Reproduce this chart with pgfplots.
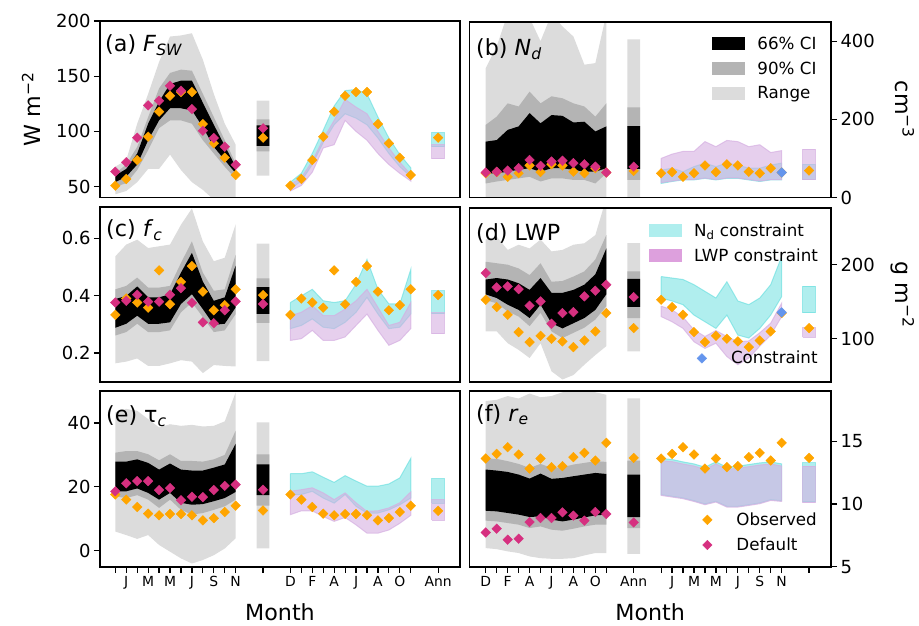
\documentclass[border=0pt]{standalone}
\usepackage{fontspec}
\setmainfont{DejaVu Sans}
\usepackage{pgfplots}
\pgfplotsset{compat=1.18}
\usepackage{pgfplotstable}

\definecolor{rangec}{HTML}{DCDCDC}
\definecolor{ci90}{HTML}{B4B4B4}
\definecolor{obsc}{HTML}{FFA500}
\definecolor{defc}{HTML}{D63080}
\definecolor{conc}{HTML}{6495ED}
\definecolor{ndc}{RGB}{97,221,221}
\definecolor{lwpc}{RGB}{213,175,225}
\definecolor{ndleg}{HTML}{AFEEEE}
\definecolor{lwpleg}{HTML}{DDA0DD}

\newcommand{\ytfont}{\fontsize{18}{21}\selectfont}
\newcommand{\xtfont}{\fontsize{13.9}{16}\selectfont}
\newcommand{\lgfont}{\fontsize{16.7}{19}\selectfont}
\newcommand{\bigfont}{\fontsize{22.2}{26}\selectfont}

% annual bars
\newcommand{\abarA}[3]{\addplot[#3] coordinates {(12.92,#1) (14.08,#1) (14.08,#2) (12.92,#2) (12.92,#1)};}
\newcommand{\abarB}[3]{\addplot[#3] coordinates {(28.92,#1) (30.08,#1) (30.08,#2) (28.92,#2) (28.92,#1)};}

\tikzset{plab/.style={anchor=base west, font=\bigfont, inner sep=0pt}}
\pgfplotsset{
  panel/.style={scale only axis, anchor=south west, axis on top,
    axis line style={line width=1.6pt}, tick align=outside, major tick length=6pt,
    every tick/.style={black, line width=1.2pt}, xtick=\empty,
    yticklabel style={font=\ytfont}, xticklabel style={font=\xtfont},
    /pgf/number format/assume math mode=true, xmax=31.5},
  leftpanel/.style={panel, width=360pt, ytick pos=left, xmin=-1.4},
  rightpanel/.style={panel, width=361.7pt, ytick pos=right, yticklabel pos=right, xmin=-1.5},
  rng/.style={fill=rangec, draw=none, forget plot},
  c90/.style={fill=ci90, draw=none, forget plot},
  c66/.style={fill=black, draw=none, forget plot},
  ndf/.style={fill=ndc, fill opacity=0.5, draw=ndc, draw opacity=0.6, line width=1pt, forget plot},
  lwpf/.style={fill=lwpc, fill opacity=0.6, draw=lwpc, draw opacity=0.7, line width=1pt, forget plot},
  dmd/.style={only marks, mark=square*, mark size=3.4pt, mark options={rotate=45}},
  obsm/.style={dmd, color=obsc, forget plot},
  defm/.style={dmd, color=defc, forget plot},
  conm/.style={dmd, color=conc, forget plot},
  leftticks/.style={xtick pos=left, xtick={0,1,2,3,4,5,6,7,8,9,10,11,13.5,16,17,18,19,20,21,22,23,24,25,26,27,29.5}},
  leg/.style={legend cell align=left, legend style={draw=none, fill=none, font=\lgfont,
    row sep=11pt, column sep=12.6pt, inner sep=0pt, nodes={inner sep=0pt}}},
  patchleg/.style={legend image code/.code={\fill[##1] (0pt,-6.5pt) rectangle (33pt,6.5pt);}},
  markleg/.style={legend image code/.code={\path[draw=none, fill=none] (0pt,-6.5pt) rectangle (33pt,6.5pt); \draw[##1] plot coordinates {(16.5pt,0pt)};}},
}

% observed / default points
\pgfplotstableread{
x obs def
0 50.8 63.5
1 56.9 72.0
2 74.0 94.3
3 95.2 123.6
4 117.9 127.8
5 132.3 141.4
6 135.7 136.9
7 135.7 120.3
8 106.7 100.6
9 89.2 94.0
10 76.2 86.1
11 60.5 69.8
}\tA
\pgfplotstableread{
x obs def
0 62 64
1 65 66
2 53 69
3 62 75
4 82 96
5 65 81
6 85 92
7 82 94
8 66 88
9 62 85
10 75 79
11 64 64
}\tB
\pgfplotstableread{
x obs def
0 0.333 0.376
1 0.390 0.382
2 0.376 0.403
3 0.358 0.379
4 0.488 0.379
5 0.370 0.403
6 0.448 0.426
7 0.503 0.375
8 0.414 0.307
9 0.349 0.304
10 0.367 0.349
11 0.422 0.380
}\tC
\pgfplotstableread{
x obs def
0 152.7 188.7
1 142.8 169.4
2 132.4 170.7
3 109.0 167.1
4 95.5 144.6
5 104.0 150.5
6 100.0 120.3
7 96.4 134.7
8 88.7 136.0
9 97.7 157.2
10 109.9 164.9
11 134.7 173.0
}\tD
\pgfplotstableread{
x obs def
0 17.6 18.6
1 16.0 21.1
2 13.7 21.8
3 11.6 21.8
4 11.1 19.0
5 11.5 19.6
6 11.5 15.8
7 11.1 16.9
8 9.5 16.8
9 10.2 19.0
10 12.1 20.3
11 14.1 20.7
}\tE
\pgfplotstableread{
x obs def
0 13.62 7.73
1 13.99 8.03
2 14.52 7.15
3 13.94 7.23
4 12.82 8.56
5 13.62 8.88
6 12.93 8.88
7 13.01 9.33
8 13.73 9.07
9 14.07 8.67
10 13.46 9.36
11 14.87 9.20
}\tF

\begin{document}
\begin{tikzpicture}
\useasboundingbox (0,0) rectangle (919pt,625pt);

% (a)
\begin{axis}[leftpanel, at={(100pt,427.4pt)}, height=176.5pt, ymin=40, ymax=200, ytick={50,100,150,200},
  ylabel={W m\textsuperscript{−2}}, ylabel style={at={(axis description cs:-0.164,0.5)}, anchor=base, font=\bigfont}]
  \addplot[rng] coordinates {(0,68)(1,74)(2,107)(3,134)(4,163)(5,186)(6,187)(7,189)(8,165)(9,134)(10,107)(11,88)
    (11,38)(10,38)(9,38)(8,47)(7,54)(6,65)(5,79)(4,66)(3,66)(2,54)(1,46)(0,43)};
  \addplot[c90] coordinates {(0,62)(1,70)(2,86)(3,113)(4,139)(5,153)(6,156)(7,155)(8,134)(9,113)(10,92)(11,71)
    (11,57)(10,68)(9,80)(8,92)(7,107)(6,110)(5,110)(4,103)(3,83)(2,65)(1,53)(0,50)};
  \addplot[c66] coordinates {(0,60)(1,66)(2,80)(3,107)(4,127)(5,143)(6,146)(7,146)(8,126)(9,106)(10,87)(11,68)
    (11,62)(10,74)(9,86)(8,104)(7,119)(6,121)(5,121)(4,110)(3,92)(2,70)(1,59)(0,54)};
  \abarA{60}{128}{rng}
  \abarA{82}{111}{c90}
  \abarA{87}{105.5}{c66}
  \addplot[obsm] table[x=x,y=obs]{\tA};
  \addplot[defm] table[x=x,y=def]{\tA};
  \addplot[obsm] coordinates {(13.5,94.3)};
  \addplot[defm] coordinates {(13.5,102.8)};
  \addplot[ndf] coordinates {(16,54)(17,62)(18,80)(19,101)(20,123)(21,137)(22,138)(23,134)(24,113)(25,94)(26,79)(27,67)
    (27,59)(26,68)(25,80)(24,94)(23,106)(22,112)(21,116)(20,106)(19,90)(18,70)(17,55)(16,48)(16,54)};
  \addplot[lwpf] coordinates {(16,52)(17,58)(18,73)(19,93)(20,110)(21,129)(22,122)(23,116)(24,100)(25,85)(26,72)(27,61)
    (27,55)(26,62)(25,70)(24,80)(23,92)(22,100)(21,110)(20,88)(19,85)(18,63)(17,51)(16,46)(16,52)};
  \abarB{86}{99}{ndf}
  \abarB{75}{88}{lwpf}
  \addplot[obsm] table[x expr=\thisrow{x}+16,y=obs]{\tA};
  \addplot[obsm] coordinates {(29.5,94.3)};
  \node[plab] at (rel axis cs:0.014,0.828) {(a) \textit{F}\textsubscript{\textit{SW}}};
\end{axis}

% (b)
\begin{axis}[rightpanel, leg, patchleg, at={(469.3pt,427.5pt)}, height=175.8pt, ymin=0, ymax=450, ytick={0,200,400},
  ylabel={cm\textsuperscript{−3}}, ylabel style={at={(axis description cs:1.177,0.5)}, anchor=base, rotate=180, font=\bigfont},
  legend style={at={(0.670,0.915)}, anchor=north west}]
  \addplot[rng] coordinates {(0,331)(1,387)(2,470)(3,470)(4,460)(5,400)(6,470)(7,438)(8,412)(9,340)(10,344)(11,470)
    (11,-5)(0,-5)};
  \addplot[c90] coordinates {(0,186)(1,207)(2,241)(3,233)(4,271)(5,241)(6,259)(7,254)(8,241)(9,233)(10,207)(11,241)
    (11,62)(10,36)(9,45)(8,45)(7,49)(6,49)(5,41)(4,53)(3,49)(2,45)(1,41)(0,36)};
  \addplot[c66] coordinates {(0,143)(1,147)(2,173)(3,182)(4,216)(5,190)(6,211)(7,209)(8,192)(9,194)(10,169)(11,182)
    (11,75)(10,66)(9,66)(8,71)(7,75)(6,75)(5,66)(4,75)(3,71)(2,66)(1,62)(0,62)};
  \abarA{-5}{405}{rng}
  \abarA{45}{231}{c90}
  \abarA{73}{183}{c66}
  \addplot[obsm] table[x=x,y=obs]{\tB};
  \addplot[defm] table[x=x,y=def]{\tB};
  \addplot[obsm] coordinates {(13.5,68)};
  \addplot[defm] coordinates {(13.5,79)};
  \addplot[ndf] coordinates {(16,70)(17,75)(18,66)(19,79)(20,88)(21,79)(22,88)(23,83)(24,75)(25,75)(26,83)(27,88)
    (27,45)(26,45)(25,41)(24,45)(23,49)(22,49)(21,45)(20,49)(19,45)(18,45)(17,41)(16,36)(16,70)};
  \addplot[lwpf] coordinates {(16,100)(17,111)(18,118)(19,118)(20,143)(21,130)(22,146)(23,143)(24,130)(25,135)(26,115)(27,120)
    (27,46)(26,46)(25,42)(24,46)(23,50)(22,50)(21,46)(20,50)(19,46)(18,46)(17,42)(16,38)(16,100)};
  \abarB{45}{85}{ndf}
  \abarB{45}{124}{lwpf}
  \addplot[obsm] table[x expr=\thisrow{x}+16,y=obs]{\tB};
  \addplot[obsm] coordinates {(29.5,69)};
  \addplot[conm] coordinates {(27,64)};
  \addlegendimage{fill=black, draw=none}\addlegendentry{66\% CI}
  \addlegendimage{fill=ci90, draw=none}\addlegendentry{90\% CI}
  \addlegendimage{fill=rangec, draw=none}\addlegendentry{Range}
  \node[plab] at (rel axis cs:0.0185,0.81) {(b) \textit{N}\textsubscript{\textit{d}}};
\end{axis}

% (c)
\begin{axis}[leftpanel, at={(100pt,243.3pt)}, height=175pt, ymin=0.1, ymax=0.71, ytick={0.2,0.4,0.6}]
  \addplot[rng] coordinates {(0,.537)(1,.578)(2,.595)(3,.566)(4,.572)(5,.578)(6,.647)(7,.704)(8,.589)(9,.520)(10,.532)(11,.649)
    (11,.153)(10,.155)(9,.158)(8,.130)(7,.170)(6,.175)(5,.164)(4,.155)(3,.155)(2,.181)(1,.170)(0,.164)};
  \addplot[c90] coordinates {(0,.422)(1,.434)(2,.463)(3,.428)(4,.428)(5,.434)(6,.514)(7,.589)(8,.480)(9,.417)(10,.422)(11,.543)
    (11,.336)(10,.279)(9,.273)(8,.325)(7,.376)(6,.342)(5,.279)(4,.273)(3,.273)(2,.302)(1,.273)(0,.261)};
  \addplot[c66] coordinates {(0,.388)(1,.399)(2,.432)(3,.394)(4,.394)(5,.405)(6,.480)(7,.549)(8,.449)(9,.382)(10,.394)(11,.505)
    (11,.359)(10,.302)(9,.298)(8,.353)(7,.405)(6,.371)(5,.307)(4,.302)(3,.302)(2,.330)(1,.302)(0,.288)};
  \abarA{0.172}{0.581}{rng}
  \abarA{0.305}{0.460}{c90}
  \abarA{0.336}{0.430}{c66}
  \addplot[obsm] table[x=x,y=obs]{\tC};
  \addplot[defm] table[x=x,y=def]{\tC};
  \addplot[obsm] coordinates {(13.5,0.402)};
  \addplot[defm] coordinates {(13.5,0.371)};
  \addplot[ndf] coordinates {(16,.376)(17,.399)(18,.422)(19,.382)(20,.376)(21,.382)(22,.440)(23,.526)(24,.422)(25,.371)(26,.371)(27,.491)
    (27,.336)(26,.290)(25,.285)(24,.336)(23,.394)(22,.342)(21,.307)(20,.285)(19,.290)(18,.319)(17,.296)(16,.285)(16,.376)};
  \addplot[lwpf] coordinates {(16,.330)(17,.342)(18,.365)(19,.330)(20,.330)(21,.353)(22,.382)(23,.422)(24,.359)(25,.296)(26,.307)(27,.376)
    (27,.285)(26,.244)(25,.227)(24,.279)(23,.336)(22,.296)(21,.256)(20,.244)(19,.244)(18,.279)(17,.250)(16,.244)(16,.330)};
  \abarB{0.336}{0.417}{ndf}
  \abarB{0.267}{0.340}{lwpf}
  \addplot[obsm] table[x expr=\thisrow{x}+16,y=obs]{\tC};
  \addplot[obsm] coordinates {(29.5,0.402)};
  \node[plab] at (rel axis cs:0.0167,0.827) {(c) \textit{f}\textsubscript{\textit{c}}};
\end{axis}

% (d)
\begin{axis}[rightpanel, leg, patchleg, at={(469.3pt,243.3pt)}, height=174pt, ymin=42, ymax=277, ytick={100,200},
  ylabel={g m\textsuperscript{−2}}, ylabel style={at={(axis description cs:1.177,0.5)}, anchor=base, rotate=180, font=\bigfont},
  legend style={at={(0.495,0.910)}, anchor=north west}]
  \addplot[rng] coordinates {(0,234)(1,238)(2,220)(3,227)(4,222)(5,234)(6,218)(7,220)(8,227)(9,229)(10,240)(11,290)
    (11,90)(10,78)(9,65)(8,51)(7,45)(6,56)(5,94)(4,74)(3,85)(2,94)(1,110)(0,110)};
  \addplot[c90] coordinates {(0,204)(1,202)(2,200)(3,195)(4,186)(5,202)(6,177)(7,178)(8,184)(9,191)(10,207)(11,240)
    (11,144)(10,126)(9,115)(8,108)(7,101)(6,110)(5,135)(4,117)(3,130)(2,137)(1,148)(0,152)};
  \addplot[c66] coordinates {(0,180)(1,182)(2,180)(3,175)(4,166)(5,182)(6,162)(7,162)(8,166)(9,173)(10,187)(11,222)
    (11,160)(10,139)(9,128)(8,121)(7,114)(6,121)(5,146)(4,128)(3,139)(2,146)(1,155)(0,160)};
  \abarA{83}{229}{rng}
  \abarA{128}{191}{c90}
  \abarA{143}{181}{c66}
  \addplot[obsm] table[x=x,y=obs]{\tD};
  \addplot[defm] table[x=x,y=def]{\tD};
  \addplot[obsm] coordinates {(13.5,114.4)};
  \addplot[defm] coordinates {(13.5,156.3)};
  \addplot[ndf] coordinates {(16,184)(17,182)(18,180)(19,173)(20,164)(21,155)(22,177)(23,151)(24,146)(25,155)(26,173)(27,211)
    (27,157)(26,132)(25,114)(24,101)(23,105)(22,132)(21,114)(20,123)(19,132)(18,146)(17,151)(16,155)(16,184)};
  \addplot[lwpf] coordinates {(16,144)(17,139)(18,129)(19,112)(20,103)(21,111)(22,103)(23,96)(24,97)(25,108)(26,121)(27,148)
    (27,130)(26,105)(25,90)(24,74)(23,65)(22,76)(21,94)(20,87)(19,96)(18,114)(17,123)(16,130)(16,144)};
  \abarB{135}{171}{ndf}
  \abarB{102}{115}{lwpf}
  \addplot[obsm] table[x expr=\thisrow{x}+16,y=obs]{\tD};
  \addplot[obsm] coordinates {(29.5,114.4)};
  \addplot[conm] coordinates {(27,135.6)};
  \addlegendimage{fill=ndleg, draw=none}\addlegendentry{N\textsubscript{d} constraint}
  \addlegendimage{fill=lwpleg, draw=none}\addlegendentry{LWP constraint}
  \node[plab] at (rel axis cs:0.0185,0.814) {(d) LWP};
\end{axis}
% second legend of (d)
\begin{axis}[at={(469.3pt,243.3pt)}, anchor=south west, scale only axis, width=361.7pt, height=174pt,
  hide axis, xmin=0, xmax=1, ymin=0, ymax=1, leg, markleg,
  legend style={at={(0.597,0.134)}, anchor=west}]
  \addplot[draw=none, mark=none, forget plot] coordinates {(0.5,0.5)};
  \addlegendimage{only marks, mark=square*, mark size=3.4pt, mark options={rotate=45}, color=conc}
  \addlegendentry{Constraint}
\end{axis}

% (e)
\begin{axis}[leftpanel, leftticks, at={(100pt,58.3pt)}, height=175.7pt, ymin=-5, ymax=50, ytick={0,20,40},
  xticklabels={{},J,{},M,{},M,{},J,{},S,{},N,{},D,{},F,{},A,{},J,{},A,{},O,{},Ann},
  xlabel={Month}, xlabel style={at={(axis description cs:0.5,-0.305)}, anchor=base, font=\bigfont}]
  \addplot[rng] coordinates {(0,43.3)(1,44.4)(2,43.8)(3,41.2)(4,38.6)(5,39.6)(6,39.1)(7,39.4)(8,38.9)(9,39.1)(10,40.5)(11,49.6)
    (11,3.9)(10,0.7)(9,-1.4)(8,-2.9)(7,-4.0)(6,-2.4)(5,-0.3)(4,1.8)(3,4.9)(2,3.7)(1,4.9)(0,6.0)};
  \addplot[c90] coordinates {(0,30.7)(1,31.2)(2,31.2)(3,30.2)(4,28.3)(5,30.2)(6,28.1)(7,28.1)(8,27.9)(9,28.6)(10,30.0)(11,37.6)
    (11,16.0)(10,13.9)(9,12.8)(8,11.8)(7,11.3)(6,12.8)(5,16.0)(4,13.4)(3,16.0)(2,17.4)(1,16.5)(0,17.0)};
  \addplot[c66] coordinates {(0,27.9)(1,27.9)(2,28.6)(3,27.5)(4,25.4)(5,27.3)(6,25.4)(7,25.1)(8,25.1)(9,26.0)(10,27.0)(11,33.5)
    (11,18.4)(10,16.5)(9,15.5)(8,14.6)(7,14.4)(6,15.0)(5,18.1)(4,16.0)(3,18.1)(2,19.5)(1,18.6)(0,18.6)};
  \abarA{0.7}{40.2}{rng}
  \abarA{14.1}{30.2}{c90}
  \abarA{17.4}{27}{c66}
  \addplot[obsm] table[x=x,y=obs]{\tE};
  \addplot[defm] table[x=x,y=def]{\tE};
  \addplot[obsm] coordinates {(13.5,12.6)};
  \addplot[defm] coordinates {(13.5,19.1)};
  \addplot[ndf] coordinates {(16,24.1)(17,24.1)(18,24.7)(19,23.0)(20,21.4)(21,23.5)(22,21.8)(23,20.2)(24,20.2)(25,20.9)(26,22.8)(27,28.9)
    (27,16.5)(26,14.4)(25,12.8)(24,11.8)(23,11.8)(22,13.9)(21,17.6)(20,14.9)(19,16.5)(18,18.6)(17,17.6)(16,17.6)(16,24.1)};
  \addplot[lwpf] coordinates {(16,18.6)(17,19.1)(18,19.7)(19,18.1)(20,16.0)(21,18.1)(22,15.0)(23,12.3)(24,12.5)(25,13.4)(26,15.0)(27,18.4)
    (27,11.1)(26,8.6)(25,6.5)(24,5.5)(23,5.5)(22,8.1)(21,10.4)(20,9.2)(19,10.7)(18,12.5)(17,12.5)(16,11.3)(16,18.6)};
  \abarB{14.9}{22.6}{ndf}
  \abarB{9.5}{16}{lwpf}
  \addplot[obsm] table[x expr=\thisrow{x}+16,y=obs]{\tE};
  \addplot[obsm] coordinates {(29.5,12.5)};
  \node[plab] at (rel axis cs:0.0167,0.818) {(e) τ\textsubscript{\textit{c}}};
\end{axis}

% (f)
\begin{axis}[rightpanel, leftticks, leg, markleg, at={(469.3pt,58.3pt)}, height=175.7pt, ymin=5, ymax=19, ytick={5,10,15},
  xticklabels={D,{},F,{},A,{},J,{},A,{},O,{},Ann,{},J,{},M,{},M,{},J,{},S,{},N,{}},
  xlabel={Month}, xlabel style={at={(axis description cs:0.5,-0.305)}, anchor=base, font=\bigfont},
  legend style={at={(0.612,0.3085)}, anchor=north west}]
  \addplot[rng] coordinates {(0,18.2)(1,18.3)(2,18.6)(3,18.4)(4,18.8)(5,18.5)(6,18.6)(7,18.9)(8,19.0)(9,19.0)(10,18.9)(11,18.7)
    (11,6.09)(10,6.09)(9,5.90)(8,5.68)(7,5.63)(6,5.63)(5,5.68)(4,5.82)(3,6.09)(2,6.22)(1,6.40)(0,6.48)};
  \addplot[c90] coordinates {(0,13.62)(1,13.59)(2,13.41)(3,13.19)(4,12.87)(5,13.19)(6,12.87)(7,12.93)(8,13.14)(9,13.27)(10,13.41)(11,13.35)
    (11,8.35)(10,8.35)(9,8.21)(8,8.03)(7,7.87)(6,7.95)(5,8.21)(4,8.08)(3,8.35)(2,8.48)(1,8.61)(0,8.67)};
  \addplot[c66] coordinates {(0,12.74)(1,12.66)(2,12.55)(3,12.34)(4,12.02)(5,12.42)(6,12.00)(7,12.07)(8,12.21)(9,12.34)(10,12.47)(11,12.39)
    (11,9.15)(10,9.09)(9,8.93)(8,8.75)(7,8.61)(6,8.75)(5,9.01)(4,8.96)(3,9.15)(2,9.28)(1,9.41)(0,9.46)};
  \abarA{6.03}{18.41}{rng}
  \abarA{8.08}{13.46}{c90}
  \abarA{8.96}{12.34}{c66}
  \addplot[obsm] table[x=x,y=obs]{\tF};
  \addplot[defm] table[x=x,y=def]{\tF};
  \addplot[obsm] coordinates {(13.5,13.67)};
  \addplot[defm] coordinates {(13.5,8.53)};
  \addplot[ndf] coordinates {(16,13.62)(17,13.54)(18,13.35)(19,13.19)(20,12.93)(21,13.35)(22,12.93)(23,13.01)(24,13.14)(25,13.27)(26,13.35)(27,13.19)
    (27,10.26)(26,10.34)(25,10.08)(24,9.94)(23,9.81)(22,9.81)(21,10.21)(20,10.00)(19,10.26)(18,10.48)(17,10.61)(16,10.74)(16,13.62)};
  \addplot[lwpf] coordinates {(16,13.45)(17,13.37)(18,13.18)(19,13.02)(20,12.76)(21,13.18)(22,12.76)(23,12.84)(24,12.97)(25,13.10)(26,13.18)(27,13.02)
    (27,10.20)(26,10.28)(25,10.02)(24,9.88)(23,9.75)(22,9.75)(21,10.15)(20,9.94)(19,10.20)(18,10.42)(17,10.55)(16,10.68)(16,13.45)};
  \abarB{10.16}{13.27}{ndf}
  \abarB{10.08}{13.01}{lwpf}
  \addplot[obsm] table[x expr=\thisrow{x}+16,y=obs]{\tF};
  \addplot[obsm] coordinates {(29.5,13.67)};
  \addlegendimage{only marks, mark=square*, mark size=3.4pt, mark options={rotate=45}, color=obsc}
  \addlegendentry{Observed}
  \addlegendimage{only marks, mark=square*, mark size=3.4pt, mark options={rotate=45}, color=defc}
  \addlegendentry{Default}
  \node[plab] at (rel axis cs:0.0185,0.826) {(f) \textit{r}\textsubscript{\textit{e}}};
\end{axis}
\end{tikzpicture}
\end{document}
